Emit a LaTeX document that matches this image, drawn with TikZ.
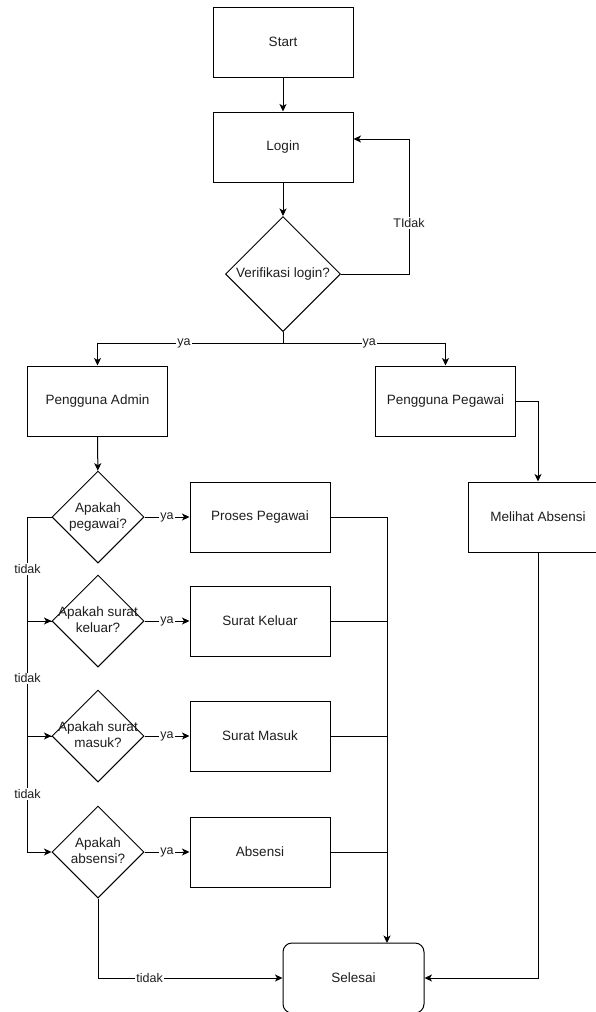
\documentclass[tikz,border=0pt]{standalone}
\usepackage{fontspec}
\setmainfont{Liberation Sans}
\usetikzlibrary{arrows.meta,shapes.geometric}
\definecolor{txt}{RGB}{30,30,30}
\begin{document}
\begin{tikzpicture}[x=1pt,y=-1pt,
  line width=1pt,
  box/.style={draw,rectangle,minimum width=140pt,minimum height=70pt,inner sep=0pt,text=txt,font=\fontsize{13.5}{16.5}\selectfont},
  endbox/.style={box,rounded corners=9pt,minimum width=141pt},
  dec/.style={draw,diamond,inner sep=0pt,text=txt,font=\fontsize{13.5}{16.5}\selectfont},
  lbl/.style={fill=white,inner sep=1pt,text=txt,font=\fontsize{12.5}{14}\selectfont},
  arr/.style={-{Stealth[length=7.5pt,width=7pt,inset=2pt]}}
]
\useasboundingbox (0,0) rectangle (596,1012);
\fill[white] (0,0) rectangle (596,1012);

% nodes
\node[box] (start) at (283,42) {Start};
\node[box] (login) at (283,147) {Login};
\node[dec,minimum width=115pt,minimum height=115pt] (verif) at (283,274) {\makebox[0pt]{Verifikasi login?}};
\node[box] (admin) at (97.5,401) {Pengguna Admin};
\node[box] (pegawai) at (445.5,401) {Pengguna Pegawai};
\node[dec,minimum width=92pt,minimum height=92pt] (d1) at (98,517) {\makebox[0pt]{\begin{tabular}{@{}c@{}}Apakah\\pegawai?\end{tabular}}};
\node[dec,minimum width=92pt,minimum height=92pt] (d2) at (98,621) {\makebox[0pt]{\begin{tabular}{@{}c@{}}Apakah surat\\keluar?\end{tabular}}};
\node[dec,minimum width=92pt,minimum height=92pt] (d3) at (98,736) {\makebox[0pt]{\begin{tabular}{@{}c@{}}Apakah surat\\masuk?\end{tabular}}};
\node[dec,minimum width=92pt,minimum height=92pt] (d4) at (98,852) {\makebox[0pt]{\begin{tabular}{@{}c@{}}Apakah\\absensi?\end{tabular}}};
\node[box] (proses) at (260,517) {Proses Pegawai};
\node[box] (keluar) at (260,621) {Surat Keluar};
\node[box] (masuk) at (260,736) {Surat Masuk};
\node[box] (absensi) at (260,852) {Absensi};
\node[box] (melihat) at (538,517) {Melihat Absensi};
\node[endbox] (selesai) at (353.5,978) {Selesai};

\coordinate (loop) at (409,139);
\coordinate (split) at (283,343);
\coordinate (cx) at (387,943);

% connectors
\draw[arr] (start) -- (login);
\draw[arr] (login) -- (verif);
\draw[arr] (verif.east) -| (loop) -- (login.east |- loop);
\node[lbl] (tidak0) at (409,223) {TIdak};
\draw (verif.south) -- (split);
\draw[arr] (split) -| node[lbl,pos=0.267] {ya} (admin.north);
\draw[arr] (split) -| node[lbl,pos=0.265] {ya} (pegawai.north);
\draw[arr] (admin) -- (d1);
\draw[arr] (pegawai.east) -| (melihat.north);
\draw[arr] (melihat.south) |- (selesai.east);

\draw[arr] (d1.east) -- node[lbl] {ya} (proses.west);
\draw[arr] (d2.east) -- node[lbl] {ya} (keluar.west);
\draw[arr] (d3.east) -- node[lbl] {ya} (masuk.west);
\draw[arr] (d4.east) -- node[lbl] {ya} (absensi.west);

\draw[arr] (d1.west) -- ++(-24,0) |- node[lbl,pos=0.25] {tidak} (d2.west);
\draw[arr] (d2.west) -- ++(-24,0) |- node[lbl,pos=0.25] {tidak} (d3.west);
\draw[arr] (d3.west) -- ++(-24,0) |- node[lbl,pos=0.25] {tidak} (d4.west);
\draw[arr] (d4.south) |- node[lbl,pos=0.64] {tidak} (selesai.west);

\draw[arr] (proses.east) -| (cx);
\draw (keluar.east) -- (keluar.east -| cx);
\draw (masuk.east) -- (masuk.east -| cx);
\draw (absensi.east) -- (absensi.east -| cx);
\end{tikzpicture}
\end{document}
